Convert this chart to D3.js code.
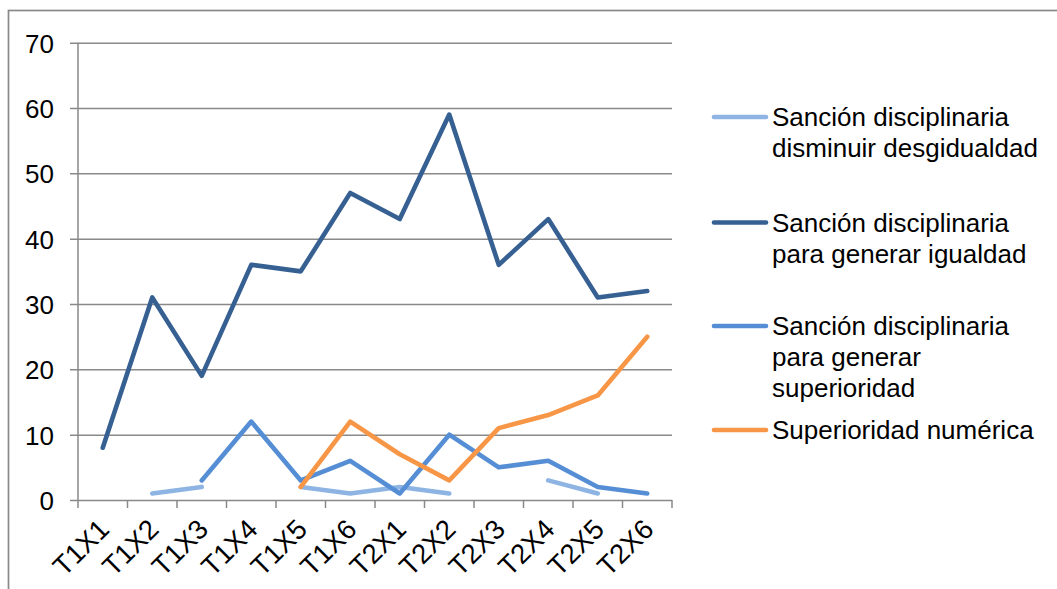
<!DOCTYPE html>
<html>
<head>
<meta charset="utf-8">
<script src="https://cdn.jsdelivr.net/npm/d3@7"></script>
<style>
  html, body { margin: 0; padding: 0; background: #fff; overflow: hidden; }
  svg { display: block; font-family: "Liberation Sans", Arial, sans-serif; }
</style>
</head>
<body>
<svg id="chart" width="1057" height="589"></svg>
<script>
// Categories along the x axis
const categories = ["T1X1", "T1X2", "T1X3", "T1X4", "T1X5", "T1X6",
                    "T2X1", "T2X2", "T2X3", "T2X4", "T2X5", "T2X6"];

// Series values (null = no value for that category)
const disminuirDesigualdad = [null, 1, 2, null, 2, 1, 2, 1, null, 3, 1, null];
const generarIgualdad      = [8, 31, 19, 36, 35, 47, 43, 59, 36, 43, 31, 32];
const generarSuperioridad  = [null, null, 3, 12, 3, 6, 1, 10, 5, 6, 2, 1];
const superioridadNumerica = [null, null, null, null, 2, 12, 7, 3, 11, 13, 16, 25];

// Legend labels (one array of lines per series)
const seriesNames = [
  ["Sanción disciplinaria", "disminuir desgidualdad"],
  ["Sanción disciplinaria", "para generar igualdad"],
  ["Sanción disciplinaria", "para generar", "superioridad"],
  ["Superioridad numérica"]
];

// Y axis tick values
const yTicks = [0, 10, 20, 30, 40, 50, 60, 70];

const seriesValues = [disminuirDesigualdad, generarIgualdad, generarSuperioridad, superioridadNumerica];
const colors = ["#8EB4E3", "#376092", "#558ED5", "#F79646"];

const svg = d3.select("#chart");
const gridColor = "#898989";
const fontSize = 26;

// Outer chart frame
svg.append("rect")
  .attr("x", 8.5).attr("y", 10.5)
  .attr("width", 1200).attr("height", 800)
  .attr("fill", "none")
  .attr("stroke", gridColor)
  .attr("stroke-width", 1.7);

const plot = { left: 78, right: 672, top: 42.7, bottom: 500 };

const x = d3.scaleBand()
  .domain(categories)
  .range([plot.left, plot.right])
  .padding(0);

const y = d3.scaleLinear()
  .domain([0, 70])
  .range([plot.bottom, plot.top]);

// Horizontal gridlines (extending left as tick marks) + y axis labels
const yAxis = d3.axisLeft(y)
  .tickValues(yTicks)
  .tickSize(-(plot.right - plot.left) - 8)
  .tickPadding(0)
  .tickFormat(d3.format("d"));

const gy = svg.append("g")
  .attr("transform", `translate(${plot.left - 8},0)`)
  .call(yAxis);
gy.select(".domain").remove();
gy.selectAll(".tick line")
  .attr("stroke", gridColor)
  .attr("stroke-width", 1.5);
gy.selectAll(".tick text")
  .attr("x", -16)
  .attr("dy", "0.36em")
  .attr("fill", "#000")
  .style("font-size", fontSize + "px")
  .style("font-family", "'Liberation Sans', Arial, sans-serif");

// Vertical axis line
svg.append("line")
  .attr("x1", plot.left).attr("x2", plot.left)
  .attr("y1", plot.top).attr("y2", plot.bottom)
  .attr("stroke", gridColor).attr("stroke-width", 1.5);

// X axis: tick marks at category boundaries, rotated labels
const boundaries = categories.map(c => x(c)).concat([x.range()[1]]);
svg.append("g")
  .selectAll("line")
  .data(boundaries)
  .join("line")
  .attr("x1", d => d).attr("x2", d => d)
  .attr("y1", plot.bottom).attr("y2", plot.bottom + 8)
  .attr("stroke", gridColor).attr("stroke-width", 1.5);

svg.append("g")
  .selectAll("text")
  .data(categories)
  .join("text")
  .attr("transform", d => `translate(${x(d) + x.bandwidth() / 2 + 8},${plot.bottom + 31}) rotate(-45)`)
  .attr("text-anchor", "end")
  .attr("fill", "#000")
  .style("font-size", "27.5px")
  .text(d => d);

// Series lines
const line = d3.line()
  .defined(d => d != null)
  .x((d, i) => x(categories[i]) + x.bandwidth() / 2)
  .y(d => y(d));

svg.append("g")
  .selectAll("path")
  .data(seriesValues)
  .join("path")
  .attr("d", d => line(d))
  .attr("fill", "none")
  .attr("stroke", (d, i) => colors[i])
  .attr("stroke-width", 4.6)
  .attr("stroke-linecap", "round")
  .attr("stroke-linejoin", "round");

// Legend
const legendTop = [126, 231.5, 335, 439];
const lineHeight = 31;
const legend = svg.append("g");
seriesNames.forEach((lines, i) => {
  const g = legend.append("g").attr("transform", `translate(0,${legendTop[i]})`);
  g.append("line")
    .attr("x1", 714).attr("x2", 766)
    .attr("y1", -9).attr("y2", -9)
    .attr("stroke", colors[i])
    .attr("stroke-width", 4.6)
    .attr("stroke-linecap", "round");
  const t = g.append("text")
    .attr("x", 772).attr("y", 0)
    .attr("fill", "#000")
    .style("font-size", fontSize + "px");
  lines.forEach((s, j) => {
    t.append("tspan").attr("x", 772).attr("dy", j === 0 ? 0 : lineHeight).text(s);
  });
});
</script>
</body>
</html>
